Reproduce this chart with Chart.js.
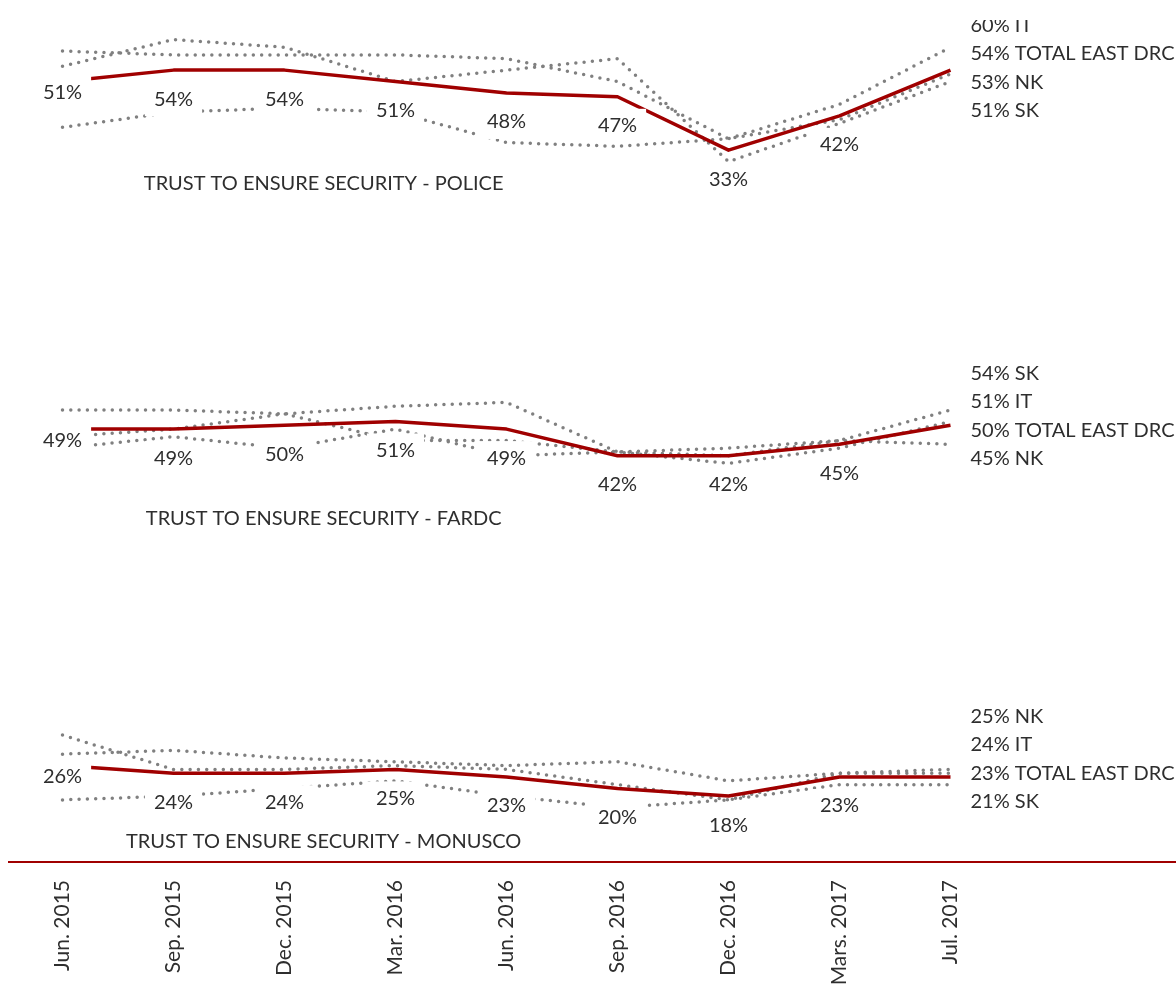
<!DOCTYPE html>
<html>
<head>
<meta charset="utf-8">
<script src="https://cdn.jsdelivr.net/npm/chart.js@4.4.1/dist/chart.umd.min.js"></script>
<style>
  html, body { margin: 0; padding: 0; background: #fff; }
  #wrap { width: 1176px; height: 987px; }
</style>
</head>
<body>
<div id="wrap"><canvas id="trustChart" width="1176" height="987"></canvas></div>
<script>
var categories = ['Jun. 2015', 'Sep. 2015', 'Dec. 2015', 'Mar. 2016', 'Jun. 2016', 'Sep. 2016', 'Dec. 2016', 'Mars. 2017', 'Jul. 2017'];

// trust to ensure security (%) - police
var policeTotal = [51, 54, 54, 51, 48, 47, 33, 42, 54];
var policeIT = [39, 43, 44, 43, 35, 34, 36, 45, 60];
var policeNK = [59, 58, 58, 58, 57, 51, 36, 41, 53];
var policeSK = [55, 62, 60, 51, 54, 57, 30, 40, 51];

// fardc
var fardcTotal = [49, 49, 50, 51, 49, 42, 42, 45, 50];
var fardcIT = [54, 54, 53, 55, 56, 43, 40, 44, 51];
var fardcNK = [47, 49, 53, 46, 46, 43, 44, 46, 45];
var fardcSK = [44, 47, 44, 49, 42, 43, 42, 46, 54];

// monusco
var monuscoTotal = [26, 24, 24, 25, 23, 20, 18, 23, 23];
var monuscoIT = [34, 25, 25, 26, 25, 21, 17, 24, 24];
var monuscoNK = [29, 30, 28, 27, 26, 27, 22, 24, 25];
var monuscoSK = [17, 18, 20, 22, 18, 15, 17, 21, 21];

var RED = '#a00000';
var GREY = '#808080';
var TEXT = '#2e2e2e';
var FONT = "Lato, 'Open Sans', sans-serif";

var panels = [
  { id: 'yPolice', title: 'TRUST TO ENSURE SECURITY - POLICE', min: -3, max: 72.4, weight: 3,
    titleAt: 24.3, endShift: 0, total: policeTotal, IT: policeIT, NK: policeNK, SK: policeSK },
  { id: 'yFardc', title: 'TRUST TO ENSURE SECURITY - FARDC', min: 10.8, max: 86.2, weight: 2,
    titleAt: 25.4, endShift: -9, total: fardcTotal, IT: fardcIT, NK: fardcNK, SK: fardcSK },
  { id: 'yMonusco', title: 'TRUST TO ENSURE SECURITY - MONUSCO', min: 0.7, max: 76.1, weight: 1,
    titleAt: 6, endShift: -17, total: monuscoTotal, IT: monuscoIT, NK: monuscoNK, SK: monuscoSK }
];

var datasets = [];
var scales = {};

panels.forEach(function(p) {
  datasets.push({
    label: 'TOTAL EAST DRC', panel: p.id, isTotal: true, yAxisID: p.id, data: p.total,
    borderColor: RED, borderWidth: 3.5, borderJoinStyle: 'round', pointRadius: 0, tension: 0
  });
  ['IT', 'NK', 'SK'].forEach(function(name) {
    datasets.push({
      label: name, panel: p.id, yAxisID: p.id, data: p[name],
      borderColor: GREY, borderWidth: 3.5, borderDash: [0, 8.3], borderCapStyle: 'round',
      pointRadius: 0, tension: 0
    });
  });
  scales[p.id] = {
    type: 'linear', position: 'left', stack: 'panels', stackWeight: 1, weight: p.weight,
    min: p.min, max: p.max, display: false
  };
});

scales.x = {
  type: 'category', offset: true,
  grid: { display: false, drawTicks: false },
  border: { display: false },
  ticks: { autoSkip: false, minRotation: 90, maxRotation: 90, padding: 18, color: TEXT, font: { family: FONT, size: 21 } },
  afterFit: function(scale) { scale.height = 125; }
};

var labelPlugin = {
  id: 'panelLabels',
  afterDatasetsDraw: function(chart) {
    var ctx = chart.ctx;
    var area = chart.chartArea;
    ctx.save();
    ctx.font = '20px ' + FONT;
    ctx.textBaseline = 'middle';

    // point labels under the total line, on white boxes
    ctx.textAlign = 'center';
    chart.data.datasets.forEach(function(ds, di) {
      if (!ds.isTotal) return;
      var pts = chart.getDatasetMeta(di).data;
      pts.forEach(function(pt, i) {
        if (i === pts.length - 1) return;
        var text = ds.data[i] + '%';
        var y = pt.y + (i === 0 ? 11 : 29);
        var w = ctx.measureText(text).width + 18;
        ctx.fillStyle = '#fff';
        ctx.fillRect(pt.x - w / 2, y - 17, w, 34);
        ctx.fillStyle = TEXT;
        ctx.fillText(text, pt.x, y);
      });
    });

    // panel titles
    panels.forEach(function(p) {
      ctx.fillStyle = TEXT;
      ctx.fillText(p.title, area.left + area.width * 0.317, chart.scales[p.id].getPixelForValue(p.titleAt));
    });

    // end labels, spread apart
    ctx.beginPath();
    ctx.rect(0, 20, chart.width, chart.height);
    ctx.clip();
    ctx.textAlign = 'left';
    panels.forEach(function(p) {
      var items = [];
      chart.data.datasets.forEach(function(ds, di) {
        if (ds.panel !== p.id) return;
        var pts = chart.getDatasetMeta(di).data;
        var last = pts[pts.length - 1];
        items.push({ text: ds.data[ds.data.length - 1] + '% ' + ds.label, x: last.x, y: last.y });
      });
      items.sort(function(a, b) { return a.y - b.y; });
      var gap = 28.5;
      for (var k = 0; k < 200; k++) {
        for (var j = 1; j < items.length; j++) {
          var d = items[j].y - items[j - 1].y;
          if (d < gap) {
            items[j].y += (gap - d) / 2;
            items[j - 1].y -= (gap - d) / 2;
          }
        }
      }
      items.forEach(function(it) {
        ctx.fillStyle = TEXT;
        ctx.fillText(it.text, it.x + 20, it.y + p.endShift);
      });
    });
    ctx.restore();

    // red axis line
    ctx.save();
    ctx.strokeStyle = RED;
    ctx.lineWidth = 2;
    ctx.beginPath();
    ctx.moveTo(area.left + 1, area.bottom);
    ctx.lineTo(chart.width, area.bottom);
    ctx.stroke();
    ctx.restore();
  }
};

new Chart(document.getElementById('trustChart'), {
  type: 'line',
  data: { labels: categories, datasets: datasets },
  options: {
    responsive: false,
    animation: false,
    layout: { padding: { left: 7, right: 170, top: 0, bottom: 0 } },
    plugins: { legend: { display: false }, tooltip: { enabled: false } },
    scales: scales
  },
  plugins: [labelPlugin]
});
</script>
</body>
</html>
